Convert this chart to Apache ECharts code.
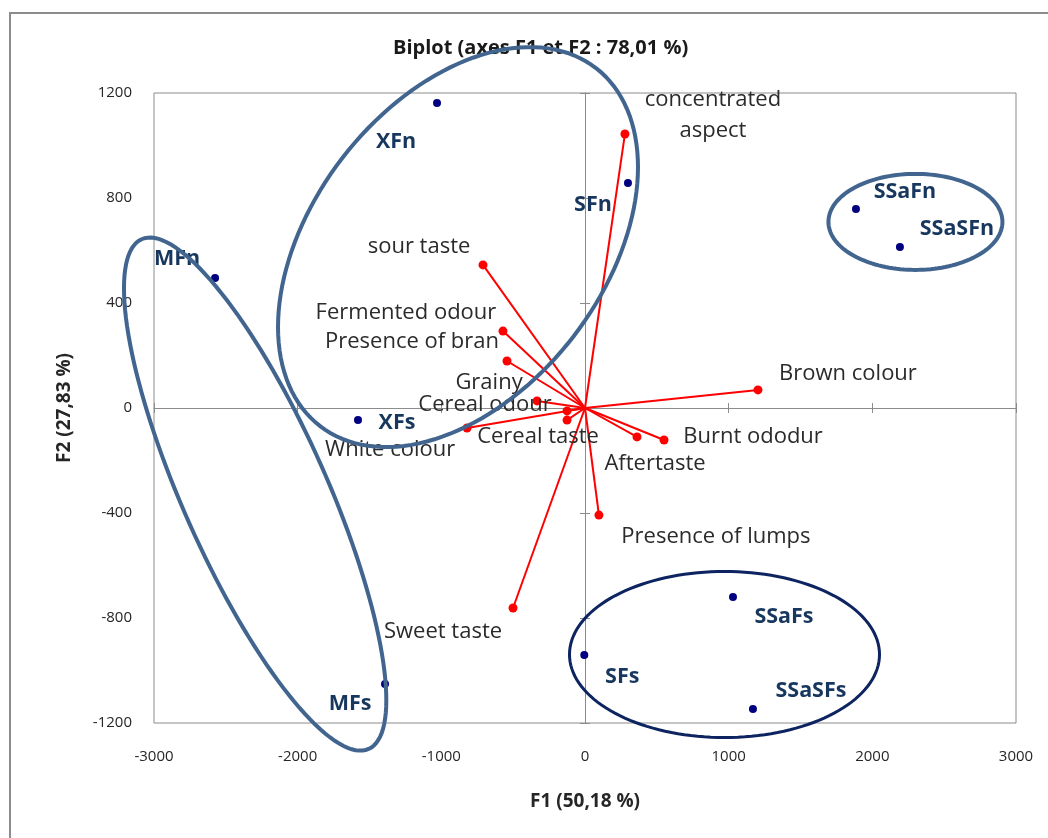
<!DOCTYPE html>
<html><head><meta charset="utf-8">
<script src="https://cdn.jsdelivr.net/npm/echarts@6/dist/echarts.min.js"></script>
<style>html,body{margin:0;padding:0;background:#fff}#c{width:1048px;height:838px}</style>
</head><body><div id="c"></div>
<script>
// ---- data ----
const obsNames = ['XFn','SFn','SSaFn','SSaSFn','MFn','XFs','SSaFs','SFs','SSaSFs','MFs'];
const obsF1 = [-1030, 299, 1886, 2192, -2575, -1580, 1030, -5, 1169, -1392];
const obsF2 = [1162, 857, 758, 613, 495, -46, -720, -941, -1147, -1051];
const varNames = ['concentrated\naspect','sour taste','Fermented odour','Presence of bran','Grainy','Cereal odour','Cereal taste','White colour','Brown colour','Burnt ododur','Aftertaste','Presence of lumps','Sweet taste'];
const varF1 = [278, -710, -571, -543, -334, -125, -125, -821, 1204, 550, 362, 97, -501];
const varF2 = [1044, 545, 293, 179, 27, -11, -46, -76, 69, -122, -110, -408, -762];
const xTicks = [-3000, -2000, -1000, 0, 1000, 2000, 3000];
const yTicks = [-1200, -800, -400, 0, 400, 800, 1200];
const titleText = 'Biplot (axes F1 et F2 : 78,01 %)';
const xName = 'F1 (50,18 %)';
const yName = 'F2 (27,83 %)';

// ---- layout (label offsets in px) ----
const obsLabelOffset = [[-41,39],[-35,22],[49,-17],[57,-18],[-38,-19],[39,3],[51,20],[38,22],[58,-18],[-35,20]];
const varLabelOffset = [[88,-19],[-64,-18],[-97,-18],[-95,-19],[-48,-18],[-82,-6],[-29,17],[-77,22],[90,-16],[89,-3],[18,27],[117,22],[-70,24]];
// group ellipses (annotation): centre in data units, semi-axes px, rotation deg
const groupCentres = [[-884, 613], [-2296, -328], [2300, 709], [971, -939]];
const groupShapes = [
  {a:226, b:146, rot:-52.4, color:'#41658F', w:4},
  {a:279, b:72, rot:66, color:'#41658F', w:4},
  {a:87, b:48, rot:0, color:'#41658F', w:4},
  {a:155, b:83, rot:0, color:'#0D2461', w:3}
];

const FONT = '"Open Sans", "Liberation Sans", sans-serif';
const xMin = xTicks[0], xMax = xTicks[xTicks.length-1], xInt = xTicks[1]-xTicks[0];
const yMin = yTicks[0], yMax = yTicks[yTicks.length-1], yInt = yTicks[1]-yTicks[0];
const gridPos = {left:154, top:93, right:32, bottom:115};
const plain = v => String(v);

const chart = echarts.init(document.getElementById('c'), null, {renderer:'canvas'});
const zeroAxisX = (pos) => ({gridIndex:0, type:'value', min:xMin, max:xMax, interval:xInt, position:pos,
  axisLine:{show:pos==='bottom', onZero:true, lineStyle:{color:'#8c8c8c', width:1}},
  axisTick:{show:true, length:5, lineStyle:{color:'#8c8c8c'}}, axisLabel:{show:false}, splitLine:{show:false}});
const zeroAxisY = (pos) => ({gridIndex:0, type:'value', min:yMin, max:yMax, interval:yInt, position:pos,
  axisLine:{show:pos==='left', onZero:true, lineStyle:{color:'#8c8c8c', width:1}},
  axisTick:{show:true, length:5, lineStyle:{color:'#8c8c8c'}}, axisLabel:{show:false}, splitLine:{show:false}});

const option = {
  animation:false,
  backgroundColor:'#ffffff',
  title:{text:titleText, left:388, top:33, textStyle:{fontFamily:FONT, fontSize:20, fontWeight:'bold', color:'#1a1a1a'}},
  graphic:[{type:'rect', shape:{x:10, y:13, width:1100, height:900}, style:{fill:'none', stroke:'#8c8c8c', lineWidth:2}, z:-10, silent:true}],
  grid:[
    Object.assign({show:false}, gridPos),
    Object.assign({show:true, borderColor:'#8c8c8c', borderWidth:1, backgroundColor:'transparent'}, gridPos)
  ],
  xAxis:[
    zeroAxisX('bottom'), zeroAxisX('top'),
    {gridIndex:1, type:'value', min:xMin, max:xMax, interval:xInt, position:'bottom',
     axisLine:{show:false, onZero:false}, axisTick:{show:false}, splitLine:{show:false},
     axisLabel:{fontFamily:FONT, fontSize:15, color:'#262626', margin:26, formatter:plain},
     name:xName, nameLocation:'middle', nameGap:69,
     nameTextStyle:{fontFamily:FONT, fontSize:19, fontWeight:'bold', color:'#262626'}}
  ],
  yAxis:[
    zeroAxisY('left'), zeroAxisY('right'),
    {gridIndex:1, type:'value', min:yMin, max:yMax, interval:yInt, position:'left',
     axisLine:{show:false, onZero:false}, axisTick:{show:false}, splitLine:{show:false},
     axisLabel:{fontFamily:FONT, fontSize:15, color:'#262626', margin:22, formatter:plain},
     name:yName, nameLocation:'middle', nameGap:80,
     nameTextStyle:{fontFamily:FONT, fontSize:19, fontWeight:'bold', color:'#262626'}}
  ],
  series:[
    {type:'lines', coordinateSystem:'cartesian2d', xAxisIndex:0, yAxisIndex:0, silent:true, z:3,
     lineStyle:{color:'#ff0000', width:2, opacity:1}, symbol:['none','none'],
     data: varF1.map((x,i)=>({coords:[[0,0],[x,varF2[i]]]}))},
    {type:'scatter', xAxisIndex:0, yAxisIndex:0, symbolSize:9, z:4,
     itemStyle:{color:'#ff0000', opacity:1},
     label:{show:true, position:'inside', formatter:'{b}', fontFamily:FONT, fontSize:22, lineHeight:31, color:'#2b2b2b'},
     data: varF1.map((x,i)=>({name:varNames[i], value:[x,varF2[i]], label:{offset:varLabelOffset[i]}}))},
    {type:'scatter', xAxisIndex:0, yAxisIndex:0, symbolSize:8, z:5,
     itemStyle:{color:'#000080', opacity:1},
     label:{show:true, position:'inside', formatter:'{b}', fontFamily:FONT, fontSize:21.5, fontWeight:'bold', color:'#17375E'},
     data: obsF1.map((x,i)=>({name:obsNames[i], value:[x,obsF2[i]], label:{offset:obsLabelOffset[i]}}))},
    {type:'custom', xAxisIndex:0, yAxisIndex:0, clip:false, silent:true, z:10,
     data: groupCentres,
     renderItem:function(params, api){
       const s = groupShapes[params.dataIndex];
       const c = api.coord([api.value(0), api.value(1)]);
       const phi = s.rot*Math.PI/180, pts = [];
       for (let i=0;i<=144;i++){
         const t = i/144*2*Math.PI, ex = s.a*Math.cos(t), ey = s.b*Math.sin(t);
         pts.push([c[0]+ex*Math.cos(phi)-ey*Math.sin(phi), c[1]+ex*Math.sin(phi)+ey*Math.cos(phi)]);
       }
       return {type:'polygon', shape:{points:pts}, style:{fill:'none', stroke:s.color, lineWidth:s.w}};
     }}
  ]
};
chart.setOption(option);
</script>
</body></html>
